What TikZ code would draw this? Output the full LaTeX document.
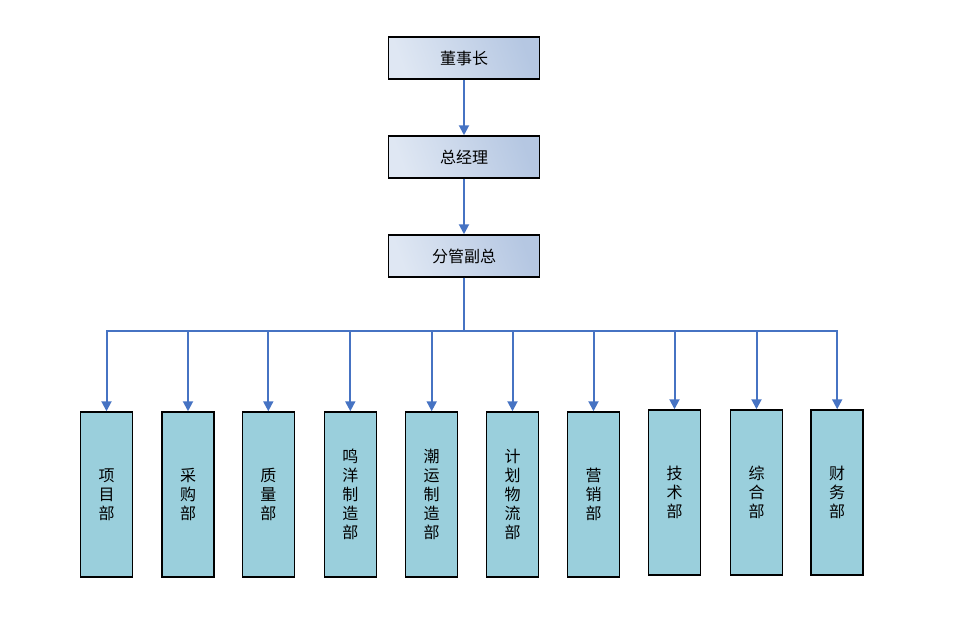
\documentclass[tikz,border=0pt]{standalone}
\usepackage{fontspec}
\newfontfamily\cjk{Noto Sans CJK SC}
\usetikzlibrary{arrows.meta}
\definecolor{linkblue}{HTML}{4673C3}
\definecolor{headlight}{HTML}{DFE7F3}
\definecolor{headdark}{HTML}{B5C7E2}
\definecolor{deptfill}{HTML}{9ACFDC}
\begin{document}
\begin{tikzpicture}[x=1pt, y=-1pt,
		every node/.style={font=\cjk\fontsize{16}{19}\selectfont},
		head/.style={draw=black, line width=1.5pt, left color=headlight, right color=headdark,
			shading angle=110, minimum width=151pt, minimum height=42pt, inner sep=0pt},
		dept/.style={draw=black, line width=1.5pt, fill=deptfill, minimum width=52pt,
			minimum height=165pt, inner sep=0pt, align=center},
		link/.style={linkblue, line width=2pt},
		>={Triangle[width=10pt, length=10pt]}]
	\useasboundingbox (0,0) rectangle (954,640);
	\node[head] (chairman) at (464,58) {董事长};
	\node[head] (manager) at (464,157) {总经理};
	\node[head] (vicegm) at (464,256) {分管副总};
	\draw[link, ->] (chairman.south) -- (manager.north);
	\draw[link, ->] (manager.south) -- (vicegm.north);
	\coordinate (bus) at (464,330.5);
	\foreach \i/\x/\y/\txt in {1/106.5/494.5/项\\目\\部, 2/188/494.5/采\\购\\部,
			3/268.3/494.5/质\\量\\部, 4/350.3/494.5/鸣\\洋\\制\\造\\部,
			5/431.7/494.5/潮\\运\\制\\造\\部, 6/512.5/494.5/计\\划\\物\\流\\部,
			7/593.5/494.5/营\\销\\部, 8/674.5/492.5/技\\术\\部,
			9/756.5/492.5/综\\合\\部, 10/837.2/492.5/财\\务\\部}{
		\node[dept] (dept\i) at (\x,\y) {\txt};
		\draw[link, ->] (vicegm.south) -- (bus) -| (dept\i.north);
	}
\end{tikzpicture}
\end{document}
